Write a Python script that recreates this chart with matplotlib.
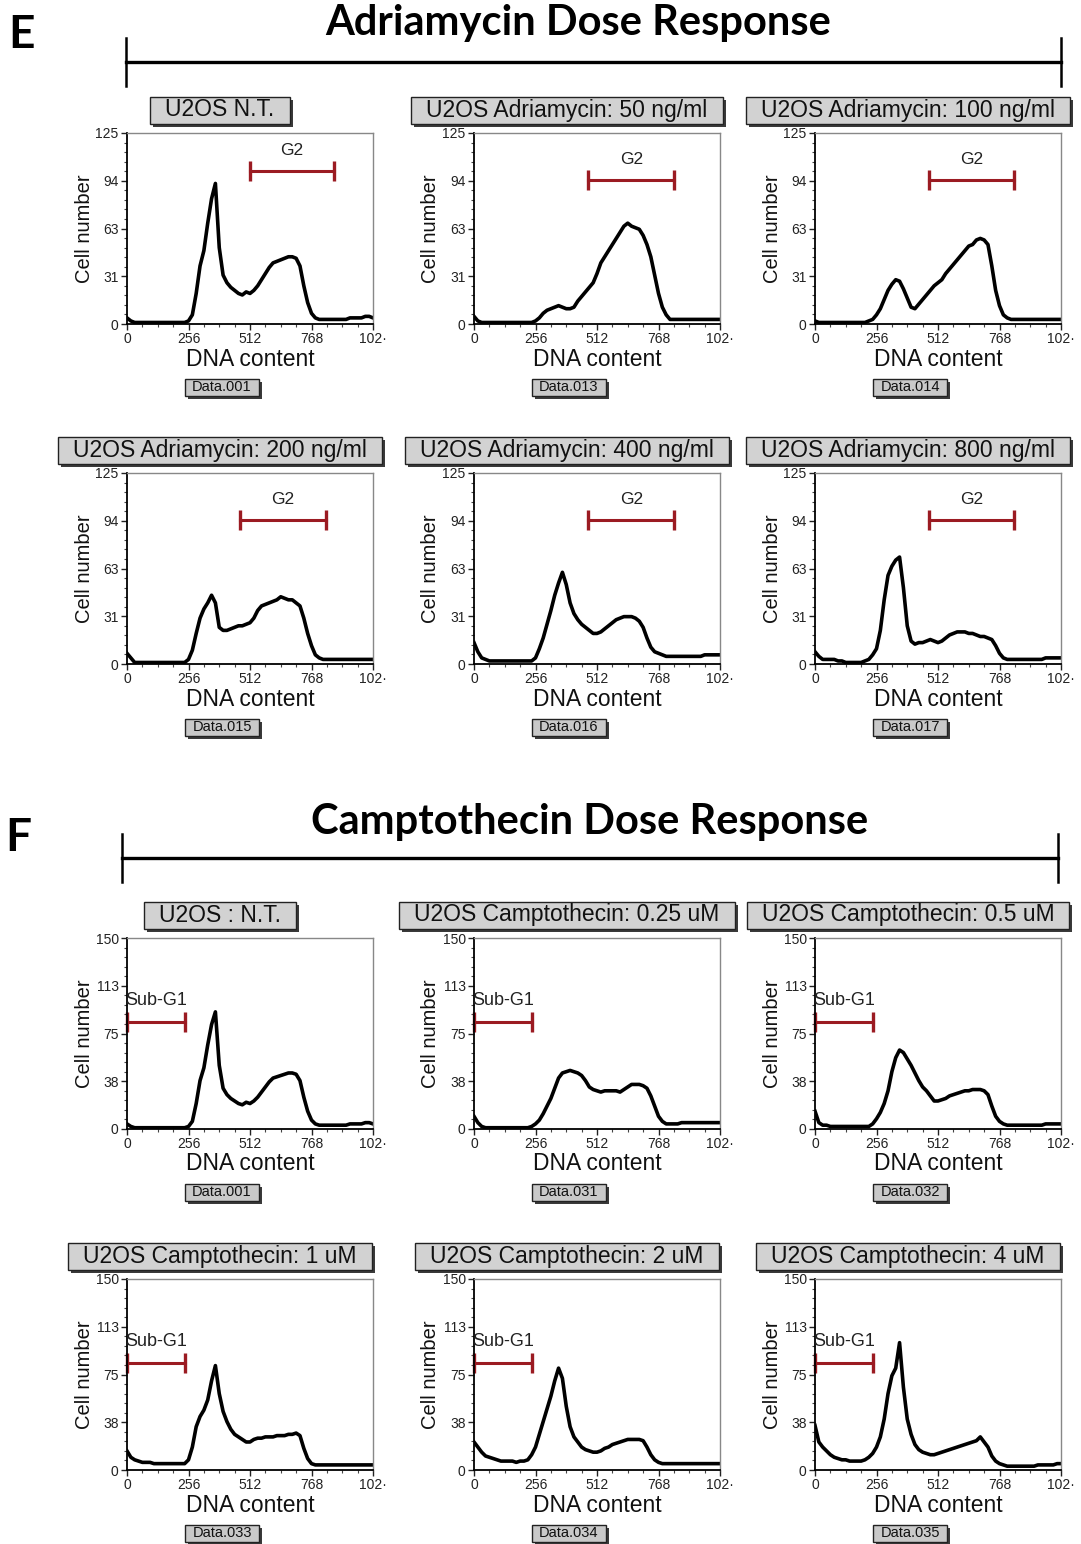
import numpy as np
import matplotlib
matplotlib.use("Agg")
import matplotlib.pyplot as plt
from matplotlib.patches import Rectangle
from matplotlib.ticker import MultipleLocator

W, H = 1081, 1544

# histogram channels (every 16th of 1024)
channels = np.arange(0, 1025, 16)

# cell counts
adria_nt = [4, 2, 1, 1, 1, 1, 1, 1, 1, 1, 1, 1, 1, 1, 1, 1,
            2, 6, 20, 38, 48, 66, 82, 92, 50, 32, 27, 24, 22, 20, 19, 21,
            20, 22, 25, 29, 33, 37, 40, 41, 42, 43, 44, 44, 43, 38, 25, 14,
            7, 4, 3, 3, 3, 3, 3, 3, 3, 3, 4, 4, 4, 4, 5, 5,
            4]
adria_50 = [5, 2, 1, 1, 1, 1, 1, 1, 1, 1, 1, 1, 1, 1, 1, 1,
            2, 4, 7, 9, 10, 11, 12, 11, 10, 10, 11, 15, 18, 21, 24, 27,
            33, 40, 44, 48, 52, 56, 60, 64, 66, 64, 63, 62, 58, 52, 44, 32,
            20, 11, 6, 3, 3, 3, 3, 3, 3, 3, 3, 3, 3, 3, 3, 3,
            3]
adria_100 = [2, 1, 1, 1, 1, 1, 1, 1, 1, 1, 1, 1, 1, 1, 2, 3,
             6, 10, 16, 22, 26, 29, 28, 23, 17, 11, 10, 13, 16, 19, 22, 25,
             27, 29, 33, 36, 39, 42, 45, 48, 51, 52, 55, 56, 55, 52, 38, 22,
             12, 6, 4, 3, 3, 3, 3, 3, 3, 3, 3, 3, 3, 3, 3, 3,
             3]
adria_200 = [7, 4, 1, 1, 1, 1, 1, 1, 1, 1, 1, 1, 1, 1, 1, 1,
             3, 9, 20, 30, 36, 40, 45, 40, 24, 22, 22, 23, 24, 25, 25, 26,
             27, 30, 35, 38, 39, 40, 41, 42, 44, 43, 42, 42, 40, 38, 30, 20,
             12, 6, 4, 3, 3, 3, 3, 3, 3, 3, 3, 3, 3, 3, 3, 3,
             3]
adria_400 = [14, 8, 4, 3, 2, 2, 2, 2, 2, 2, 2, 2, 2, 2, 2, 2,
             4, 10, 17, 26, 35, 45, 53, 60, 52, 40, 33, 29, 26, 24, 22, 20,
             20, 21, 23, 25, 27, 29, 30, 31, 31, 31, 30, 28, 24, 17, 11, 8,
             7, 6, 5, 5, 5, 5, 5, 5, 5, 5, 5, 5, 6, 6, 6, 6,
             6]
adria_800 = [8, 5, 3, 3, 3, 3, 2, 2, 1, 1, 1, 1, 1, 2, 3, 6,
             10, 22, 42, 58, 64, 68, 70, 50, 25, 15, 13, 14, 14, 15, 16, 15,
             14, 15, 17, 19, 20, 21, 21, 21, 20, 20, 19, 18, 18, 17, 16, 12,
             7, 4, 3, 3, 3, 3, 3, 3, 3, 3, 3, 3, 4, 4, 4, 4,
             4]
campto_025 = [10, 5, 2, 1, 1, 1, 1, 1, 1, 1, 1, 1, 1, 1, 1, 2,
              4, 7, 12, 18, 24, 32, 40, 44, 45, 46, 45, 44, 42, 38, 33, 31,
              30, 29, 30, 30, 30, 30, 29, 31, 33, 35, 35, 35, 34, 32, 26, 18,
              10, 6, 4, 4, 4, 4, 5, 5, 5, 5, 5, 5, 5, 5, 5, 5,
              5]
campto_05 = [14, 5, 3, 3, 2, 2, 2, 2, 2, 2, 2, 2, 2, 2, 2, 4,
             8, 13, 20, 30, 45, 56, 62, 60, 55, 50, 44, 38, 33, 30, 26, 22,
             22, 23, 24, 26, 27, 28, 29, 30, 30, 31, 31, 31, 30, 27, 18, 10,
             6, 4, 3, 3, 3, 3, 3, 3, 3, 3, 3, 3, 4, 4, 4, 4,
             4]
campto_1 = [15, 10, 8, 7, 6, 6, 6, 5, 5, 5, 5, 5, 5, 5, 5, 5,
            8, 18, 34, 42, 47, 55, 70, 82, 60, 46, 38, 32, 28, 26, 24, 22,
            22, 24, 25, 25, 26, 26, 26, 27, 27, 27, 28, 28, 29, 27, 17, 9,
            5, 4, 4, 4, 4, 4, 4, 4, 4, 4, 4, 4, 4, 4, 4, 4,
            4]
campto_2 = [22, 18, 14, 11, 10, 9, 8, 7, 7, 7, 7, 6, 7, 7, 8, 12,
            18, 28, 38, 48, 58, 70, 80, 72, 50, 34, 26, 22, 18, 16, 15, 14,
            14, 15, 17, 18, 20, 21, 22, 23, 24, 24, 24, 24, 23, 18, 12, 8,
            6, 5, 5, 5, 5, 5, 5, 5, 5, 5, 5, 5, 5, 5, 5, 5,
            5]
campto_4 = [35, 22, 18, 15, 12, 10, 9, 8, 8, 7, 7, 7, 7, 8, 10, 13,
            18, 26, 40, 60, 74, 80, 100, 65, 40, 28, 20, 16, 14, 13, 12, 12,
            13, 14, 15, 16, 17, 18, 19, 20, 21, 22, 23, 26, 22, 18, 11, 7,
            5, 4, 3, 3, 3, 3, 3, 3, 3, 3, 4, 4, 4, 4, 4, 5,
            5]

adria_titles = ["U2OS N.T.", "U2OS Adriamycin: 50 ng/ml", "U2OS Adriamycin: 100 ng/ml",
                "U2OS Adriamycin: 200 ng/ml", "U2OS Adriamycin: 400 ng/ml", "U2OS Adriamycin: 800 ng/ml"]
adria_files = ["Data.001", "Data.013", "Data.014", "Data.015", "Data.016", "Data.017"]
adria_counts = [adria_nt, adria_50, adria_100, adria_200, adria_400, adria_800]
# G2 gate: start channel, end channel, height
g2_gates = [(512, 862, 100), (476, 834, 94), (475, 830, 94),
            (470, 828, 94), (476, 834, 94), (475, 830, 94)]

campto_titles = ["U2OS : N.T.", "U2OS Camptothecin: 0.25 uM", "U2OS Camptothecin: 0.5 uM",
                 "U2OS Camptothecin: 1 uM", "U2OS Camptothecin: 2 uM", "U2OS Camptothecin: 4 uM"]
campto_files = ["Data.001", "Data.031", "Data.032", "Data.033", "Data.034", "Data.035"]
campto_counts = [adria_nt, campto_025, campto_05, campto_1, campto_2, campto_4]
subg1_gate = (0, 241, 84)

adria_yticks = [0, 31.25, 62.5, 93.75, 125]
adria_ylabels = ["0", "31", "63", "94", "125"]
campto_yticks = [0, 37.5, 75, 112.5, 150]
campto_ylabels = ["0", "38", "75", "113", "150"]
x_ticks = [0, 256, 512, 768, 1024]
x_labels = ["0", "256", "512", "768", "102\u00b7"]

for c in adria_counts + campto_counts:
    assert len(c) == len(channels)

GATE = "#9b1b22"
plt.rcParams["font.family"] = ["Liberation Sans", "DejaVu Sans"]

fig = plt.figure(figsize=(W / 100, H / 100), dpi=100)
ov = fig.add_axes([0, 0, 1, 1])
ov.set_xlim(0, W)
ov.set_ylim(H, 0)
ov.axis("off")
renderer = fig.canvas.get_renderer()

col_left = [127, 474, 815]
ax_w, ax_h = 246, 191


def label_box(cx, cy, text, fs, padx, h, fc):
    t = ov.text(cx, cy, text, ha="center", va="center", fontsize=fs, zorder=4, color="#111")
    w = t.get_window_extent(renderer).width
    ov.add_patch(Rectangle((cx - w / 2 - padx + 3, cy - h / 2 + 3), w + 2 * padx, h,
                           fc="#3a3a3a", ec="none", zorder=2))
    ov.add_patch(Rectangle((cx - w / 2 - padx, cy - h / 2), w + 2 * padx, h,
                           fc=fc, ec="#222", lw=1, zorder=3))


def section(letter, title, lx, ly, tx, ty, by, x0, x1):
    ov.text(lx, ly, letter, ha="center", va="center", fontsize=33, fontweight="bold",
            family="Lato")
    ov.text(tx, ty, title, ha="center", va="center", fontsize=30, fontweight="bold",
            family="Lato")
    ov.plot([x0, x1], [by, by], color="black", lw=2.4)
    ov.plot([x0, x0], [by - 24, by + 24], color="black", lw=1.8)
    ov.plot([x1, x1], [by - 24, by + 24], color="black", lw=1.8)


def panel(left, top, counts, ymax, yticks, ylabels, title, fname, gate, gate_label):
    ax = fig.add_axes([left / W, 1 - (top + ax_h) / H, ax_w / W, ax_h / H])
    ax.plot(channels, counts, color="black", lw=2.6)
    ax.set_xlim(0, 1024)
    ax.set_ylim(0, ymax)
    ax.set_xticks(x_ticks)
    ax.set_xticklabels(x_labels)
    ax.set_yticks(yticks)
    ax.set_yticklabels(ylabels)
    ax.xaxis.set_minor_locator(MultipleLocator(64))
    ax.yaxis.set_minor_locator(MultipleLocator(ymax / 20))
    ax.tick_params(which="major", direction="out", length=4, width=1, labelsize=10,
                   pad=2, colors="#222")
    ax.tick_params(which="minor", direction="out", length=2, width=0.8, colors="#444")
    for s in ["top", "right"]:
        ax.spines[s].set_color("#888")
        ax.spines[s].set_linewidth(1)
    for s in ["left", "bottom"]:
        ax.spines[s].set_linewidth(1.3)

    g0, g1, gy = gate
    ax.plot([g0, g1], [gy, gy], color=GATE, lw=2.2, clip_on=False)
    ax.plot([g0, g1], [gy, gy], ls="none", marker="|", ms=15, mew=2.4, color=GATE,
            clip_on=False)
    if gate_label == "G2":
        ax.text((g0 + g1) / 2, gy + ymax * 0.11, "G2", ha="center", va="center",
                fontsize=12.5, color="#222")
    else:
        ax.text(g0 - 8, gy + ymax * 0.115, gate_label, ha="left", va="center",
                fontsize=13, color="#222")

    ov.text(left - 43, top + ax_h / 2, "Cell number", rotation=90, ha="center",
            va="center", fontsize=14.5, color="#111")
    ov.text(left + ax_w / 2, top + ax_h + 35, "DNA content", ha="center", va="center",
            fontsize=16.5, color="#111")
    label_box(left + 93, top - 23, title, 16.5, 15, 27, "#d2d2d2")
    label_box(left + 95, top + ax_h + 63, fname, 10.5, 7, 17, "#c9c9c9")


section("E", "Adriamycin Dose Response", 22, 35, 578, 23, 62, 126, 1061)
section("F", "Camptothecin Dose Response", 18, 838, 590, 822, 858, 122, 1058)

adria_tops = [133, 473]
campto_tops = [938, 1279]
for i in range(6):
    r, c = divmod(i, 3)
    panel(col_left[c], adria_tops[r], adria_counts[i], 125, adria_yticks, adria_ylabels,
          adria_titles[i], adria_files[i], g2_gates[i], "G2")
    panel(col_left[c], campto_tops[r], campto_counts[i], 150, campto_yticks, campto_ylabels,
          campto_titles[i], campto_files[i], subg1_gate, "Sub-G1")

fig.savefig("out.png", dpi=100)
